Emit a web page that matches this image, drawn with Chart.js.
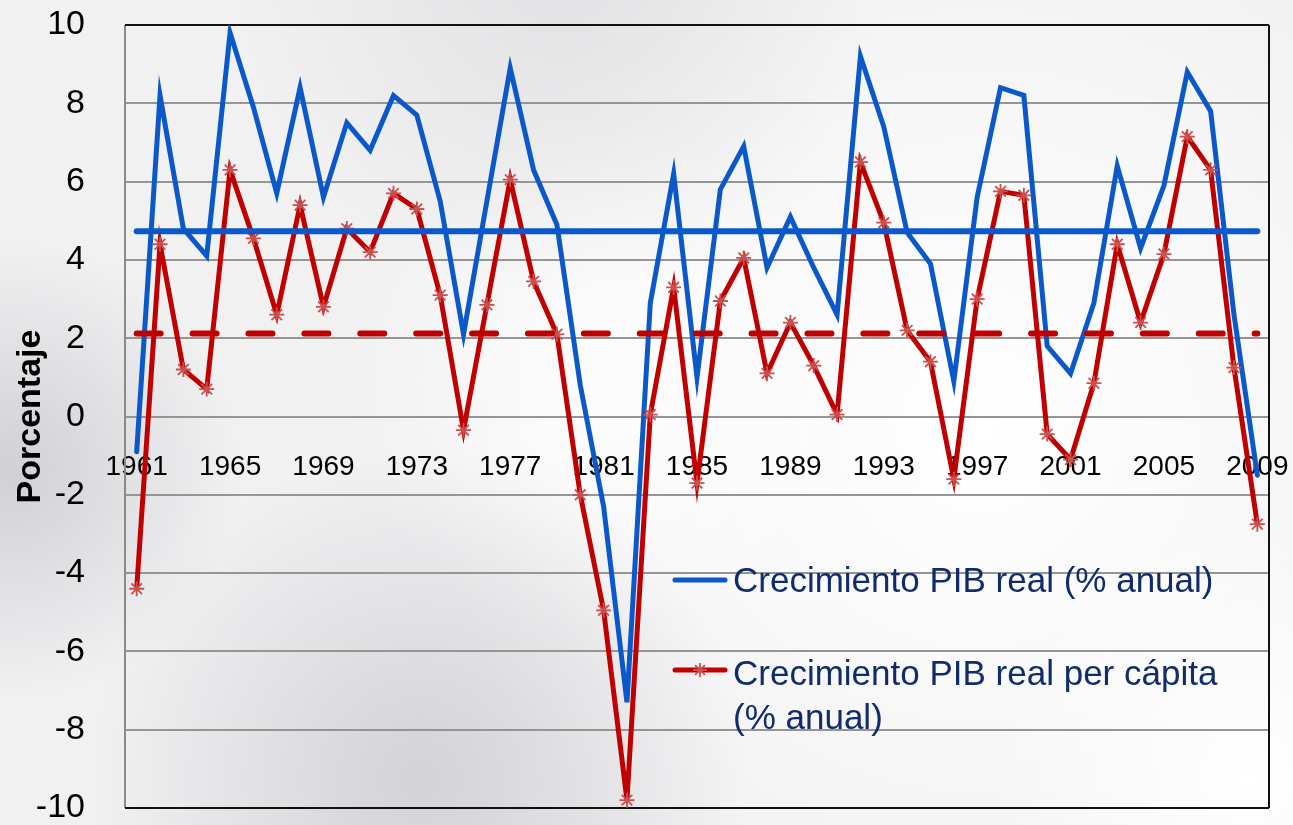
<!DOCTYPE html>
<html><head><meta charset="utf-8">
<script src="https://cdn.jsdelivr.net/npm/chart.js@4.4.1/dist/chart.umd.min.js"></script>
<style>html,body{margin:0;padding:0;background:#f2f2f2}#wrap{width:1293px;height:825px;position:relative}</style>
</head><body><div id="wrap"><canvas id="c" width="1293" height="825"></canvas></div>
<script>
const years = ['1961','1962','1963','1964','1965','1966','1967','1968','1969','1970','1971','1972','1973','1974','1975','1976','1977','1978','1979','1980','1981','1982','1983','1984','1985','1986','1987','1988','1989','1990','1991','1992','1993','1994','1995','1996','1997','1998','1999','2000','2001','2002','2003','2004','2005','2006','2007','2008','2009'];
const tickYears = ['1961','1965','1969','1973','1977','1981','1985','1989','1993','1997','2001','2005','2009'];
const growthPIB = [-0.9,8.2,4.8,4.1,9.8,7.9,5.7,8.4,5.6,7.5,6.8,8.2,7.7,5.5,2.1,5.5,8.9,6.3,4.9,0.8,-2.3,-7.3,2.9,6.2,1.0,5.8,6.9,3.8,5.1,3.8,2.6,9.2,7.4,4.7,3.9,0.9,5.6,8.4,8.2,1.8,1.1,2.9,6.4,4.3,5.9,8.8,7.8,2.6,-1.5];
const growthPerCapita = [-4.4,4.4,1.2,0.7,6.3,4.55,2.6,5.4,2.8,4.8,4.2,5.7,5.3,3.1,-0.35,2.85,6.05,3.45,2.1,-2.0,-4.95,-9.8,0.05,3.3,-1.7,2.95,4.05,1.1,2.4,1.3,0.05,6.5,4.95,2.2,1.4,-1.6,3.0,5.75,5.65,-0.45,-1.1,0.85,4.4,2.4,4.15,7.15,6.3,1.25,-2.75];
const meanPIB = 4.73;
const meanPerCapita = 2.12;
const legendLabels = ['Crecimiento PIB real (% anual)', 'Crecimiento PIB real per cápita', '(% anual)'];
const yTitle = 'Porcentaje';

const BLUE = '#0A58CA', RED = '#C00000', MARK = '#C9504E', NAVY = '#102C6A';

const bgPlugin = {
  id: 'bg',
  beforeDraw(chart) {
    const ctx = chart.ctx, W = chart.width, H = chart.height;
    ctx.save();
    ctx.fillStyle = '#f1f1f2';
    ctx.fillRect(0, 0, W, H);
    const rad = (x, y, r, c0, c1) => {
      const g = ctx.createRadialGradient(x, y, 0, x, y, r);
      g.addColorStop(0, c0); g.addColorStop(1, c1);
      ctx.fillStyle = g; ctx.fillRect(0, 0, W, H);
    };
    rad(980, 430, 560, 'rgba(255,255,255,1)', 'rgba(255,255,255,0)');
    rad(1250, 780, 260, 'rgba(255,255,255,1)', 'rgba(255,255,255,0)');
    rad(600, 380, 260, 'rgba(255,255,255,0.8)', 'rgba(255,255,255,0)');
    rad(420, 780, 330, 'rgba(200,200,206,0.75)', 'rgba(200,200,206,0)');
    rad(10, 470, 230, 'rgba(200,200,206,0.8)', 'rgba(200,200,206,0)');
    rad(560, -40, 330, 'rgba(215,215,218,0.6)', 'rgba(215,215,218,0)');
    ctx.restore();
  },
  beforeDatasetsDraw(chart) {
    const {ctx, chartArea: a} = chart;
    ctx.save();
    ctx.lineWidth = 2;
    ctx.strokeStyle = '#8a8a8a';
    ctx.beginPath(); ctx.moveTo(a.left, a.top); ctx.lineTo(a.left, a.bottom); ctx.stroke();
    ctx.strokeStyle = '#111';
    ctx.beginPath();
    ctx.moveTo(a.left, a.top); ctx.lineTo(a.right, a.top);
    ctx.moveTo(a.right, a.top); ctx.lineTo(a.right, a.bottom);
    ctx.moveTo(a.left, a.bottom); ctx.lineTo(a.right, a.bottom);
    ctx.stroke();
    ctx.restore();
  },
  afterDraw(chart) {
    const ctx = chart.ctx;
    ctx.save();
    ctx.lineCap = 'round';
    ctx.lineWidth = 5;
    ctx.strokeStyle = BLUE;
    ctx.beginPath(); ctx.moveTo(675, 580); ctx.lineTo(725, 580); ctx.stroke();
    ctx.strokeStyle = RED;
    ctx.beginPath(); ctx.moveTo(675, 670); ctx.lineTo(725, 670); ctx.stroke();
    ctx.lineCap = 'butt';
    ctx.lineWidth = 1.8;
    ctx.strokeStyle = MARK;
    const r = 7, cx = 700, cy = 670;
    ctx.beginPath();
    for (let k = 0; k < 4; k++) {
      const ang = k * Math.PI / 4;
      ctx.moveTo(cx + r * Math.cos(ang), cy + r * Math.sin(ang));
      ctx.lineTo(cx - r * Math.cos(ang), cy - r * Math.sin(ang));
    }
    ctx.stroke();
    ctx.fillStyle = NAVY;
    ctx.font = '35px "Liberation Sans", Arial, sans-serif';
    ctx.textBaseline = 'alphabetic';
    ctx.textAlign = 'left';
    ctx.fillText(legendLabels[0], 733, 592);
    ctx.fillText(legendLabels[1], 733, 685);
    ctx.fillText(legendLabels[2], 733, 729);
    ctx.restore();
  }
};

new Chart(document.getElementById('c'), {
  type: 'line',
  data: {
    labels: years,
    datasets: [
      { label: legendLabels[0], data: growthPIB, borderColor: BLUE, borderWidth: 5, pointRadius: 0, tension: 0, order: 3, borderJoinStyle: 'miter', borderCapStyle: 'round' },
      { label: legendLabels[1] + ' ' + legendLabels[2], data: growthPerCapita, borderColor: RED, borderWidth: 5, tension: 0, order: 2,
        pointStyle: 'star', pointRadius: 7.5, pointBorderColor: MARK, pointBackgroundColor: MARK, pointBorderWidth: 1.8, borderJoinStyle: 'miter' },
      { label: 'Media PIB', data: years.map(() => meanPIB), borderColor: BLUE, borderWidth: 6, pointRadius: 0, order: 1, borderCapStyle: 'round' },
      { label: 'Media per cápita', data: years.map(() => meanPerCapita), borderColor: RED, borderWidth: 6, pointRadius: 0, order: 0,
        borderDash: [24, 31.9], borderCapStyle: 'round' }
    ]
  },
  options: {
    responsive: false,
    animation: false,
    devicePixelRatio: 1,
    layout: { padding: { top: 25, bottom: 17, right: 24, left: 0 } },
    plugins: { legend: { display: false }, tooltip: { enabled: false } },
    scales: {
      x: {
        type: 'category',
        offset: true,
        position: { y: 0 },
        afterFit(s) { s.height = 0; s.paddingLeft = 0; s.paddingRight = 0; s.paddingTop = 0; s.paddingBottom = 0; },
        grid: { display: false, drawTicks: false },
        border: { display: false },
        ticks: {
          autoSkip: false, maxRotation: 0, minRotation: 0, padding: 34,
          color: '#000',
          font: { family: '"Liberation Sans", Arial, sans-serif', size: 28, lineHeight: 1.2 },
          callback: function(v) { const l = this.getLabelForValue(v); return tickYears.includes(l) ? l : ''; }
        }
      },
      y: {
        min: -10, max: 10,
        afterFit(s) { s.width = 125; s.paddingTop = 0; s.paddingBottom = 0; },
        grid: { color: '#959595', lineWidth: 2, drawTicks: false },
        border: { display: false },
        ticks: {
          stepSize: 2, padding: 40, color: '#000',
          font: { family: '"Liberation Sans", Arial, sans-serif', size: 34, lineHeight: 1.0 }
        },
        title: {
          display: true, text: yTitle, color: '#000',
          font: { family: '"Liberation Sans", Arial, sans-serif', size: 34, weight: 'bold', lineHeight: 1.2 },
          padding: { top: 10, bottom: 0 }
        }
      }
    }
  },
  plugins: [bgPlugin]
});
</script></body></html>
